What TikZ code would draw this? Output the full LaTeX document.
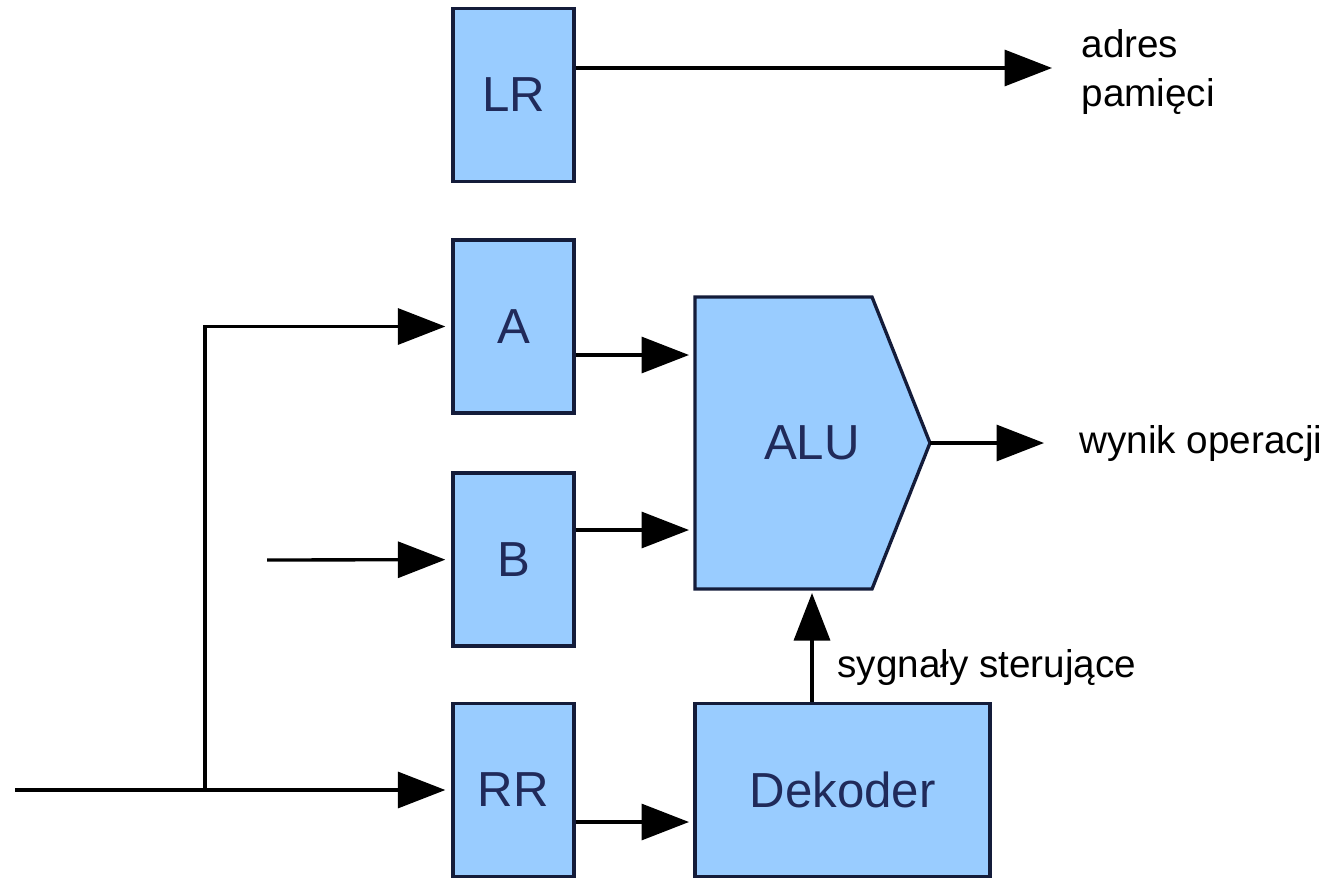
\documentclass[tikz,border=0pt]{standalone}
\usepackage{fontspec}
\setmainfont{Liberation Sans}
\usetikzlibrary{arrows.meta}
\definecolor{regfill}{RGB}{153,204,255}
\definecolor{regline}{RGB}{20,28,58}
\definecolor{regtext}{RGB}{32,42,90}
\begin{document}
\begin{tikzpicture}[x=0.02cm, y=-0.02cm, line width=1.9pt,
    reg/.style={rectangle, draw=regline, fill=regfill, text=regtext,
      minimum width=2.42cm, minimum height=3.46cm, font=\fontsize{28}{32}\selectfont},
    arr/.style={-{Triangle[length=0.95cm, width=0.72cm]}, shorten >=0.12cm},
    lbl/.style={anchor=west, font=\fontsize{22}{28}\selectfont}]
  \useasboundingbox (0,0) rectangle (1344,879);
  % registers
  \node[reg] (lr) at (513.5,95) {LR};
  \node[reg] (a) at (513.5,326.5) {A};
  \node[reg] (b) at (513.5,559.5) {B};
  \node[reg] (rr) at (513.5,790) {RR};
  \node[reg, minimum width=5.9cm] (dek) at (842.5,790) {Dekoder};
  % ALU outline
  \coordinate (alu-nw) at (695,297);
  \coordinate (alu-sw) at (695,589);
  \coordinate (alu-tip) at (930,443);
  \filldraw[draw=regline, fill=regfill, line join=miter]
    (alu-nw) -- (872,297) -- (alu-tip) -- (872,589) -- (alu-sw) -- cycle;
  \node[text=regtext, font=\fontsize{28}{32}\selectfont] (alu) at (812,443) {ALU};
  \coordinate (alu-a) at (695,355);
  \coordinate (alu-b) at (695,530);
  \coordinate (alu-s) at (812,589);
  % free ends
  \coordinate (in-rr) at (15,790);
  \coordinate (split) at (205,790);
  \coordinate (in-b) at (267,560);
  \coordinate (addr) at (1052,68);
  \coordinate (res) at (1044,443);
  \coordinate (dek-in) at (695,822);
  % connections
  \draw[arr] (in-rr) -- (rr);
  \draw[arr] (split) |- (a);
  \draw[arr] (in-b) -- (b);
  \draw[arr] (a.east |- alu-a) -- (alu-a);
  \draw[arr] (b.east |- alu-b) -- (alu-b);
  \draw[arr] (rr.east |- dek-in) -- (dek-in);
  \draw[arr, shorten >=0.08cm] (dek.north -| alu-s) -- (alu-s);
  \draw[arr, shorten >=0pt] (alu-tip) -- (res);
  \draw[arr, shorten >=0pt] (lr.east |- addr) -- (addr);
  % labels
  \node[lbl, align=left] (adres) at (1074,72) {adres\\pamięci};
  \node[lbl] (wynik) at (1072,443) {wynik operacji};
  \node[lbl] (syg) at (830,668) {sygnały sterujące};
\end{tikzpicture}
\end{document}
